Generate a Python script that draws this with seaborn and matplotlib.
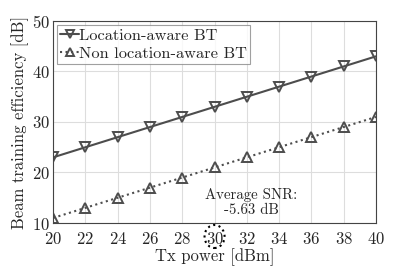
import numpy as np
import pandas as pd
import matplotlib
matplotlib.use('Agg')
import matplotlib.pyplot as plt
import seaborn as sns
from matplotlib.patches import Ellipse
from matplotlib.transforms import blended_transform_factory

# Data
tx_power = [20, 22, 24, 26, 28, 30, 32, 34, 36, 38, 40]
loc_aware = [23, 25, 27, 29, 31, 33, 35, 37, 39, 41, 43]
non_loc_aware = [11, 13, 15, 17, 19, 21, 23, 25, 27, 29, 31]
series_names = ['Location-aware BT', 'Non location-aware BT']

df = pd.DataFrame({
    'Tx': tx_power * 2,
    'eff': loc_aware + non_loc_aware,
    'method': [series_names[0]] * len(tx_power) + [series_names[1]] * len(tx_power),
})

sns.set_style('white')
plt.rcParams['font.family'] = ['cmr10', 'DejaVu Serif']
plt.rcParams['axes.formatter.use_mathtext'] = True
plt.rcParams['axes.unicode_minus'] = False

fig = plt.figure(figsize=(4.15, 2.69), dpi=100)
ax = fig.add_axes([0.128, 0.171, 0.778, 0.751])

line_col = '#4d4d4d'
sns.lineplot(data=df, x='Tx', y='eff', hue='method', style='method',
             palette=[line_col, line_col], dashes=[(None, None), (1, 1)],
             markers=['v', '^'], markersize=7.5, markerfacecolor='none',
             markeredgecolor=line_col, markeredgewidth=1.4,
             linewidth=1.5, ax=ax)

# dotted style for the second line
lines = ax.get_lines()
lines[1].set_linestyle(':')

ax.set_xlim(20, 40)
ax.set_ylim(10, 50)
ax.set_xticks(tx_power)
ax.set_yticks([10, 20, 30, 40, 50])
ax.grid(True, color='#dddddd', linewidth=0.8)
ax.tick_params(direction='in', labelsize=12, length=3, color='#444444')
ax.tick_params(axis='x', pad=5.5)
ax.tick_params(axis='y', pad=2.5)
for s in ax.spines.values():
    s.set_color('#444444')
    s.set_linewidth(0.8)
ax.set_xlabel('Tx power [dBm]', fontsize=12, labelpad=1.5)
ax.set_ylabel('Beam training efficiency [dB]', fontsize=12, labelpad=2)

leg = ax.legend(loc='upper left', fontsize=11.8, frameon=True, fancybox=False,
                borderaxespad=0.25, handlelength=1.1, handletextpad=0.05,
                borderpad=0.2, labelspacing=0.2)
leg.get_frame().set_edgecolor('#888888')
leg.get_frame().set_linewidth(0.8)
for h in leg.legend_handles:
    h.set_markerfacecolor('none')
    h.set_markeredgecolor(line_col)
    h.set_markersize(6)
leg.legend_handles[1].set_linestyle(':')

ax.text(32.26, 14.0, 'Average SNR:\n-5.63 dB', ha='center', va='center',
        fontsize=10.7, linespacing=1.1)

trans = blended_transform_factory(ax.transData, fig.transFigure)
ax.add_patch(Ellipse((30, 1 - 236.5 / 269), 1.24, 0.0855, transform=trans,
                     fill=False, linestyle=':', linewidth=1.5,
                     edgecolor='black', clip_on=False))

fig.savefig('out.png', dpi=100)
